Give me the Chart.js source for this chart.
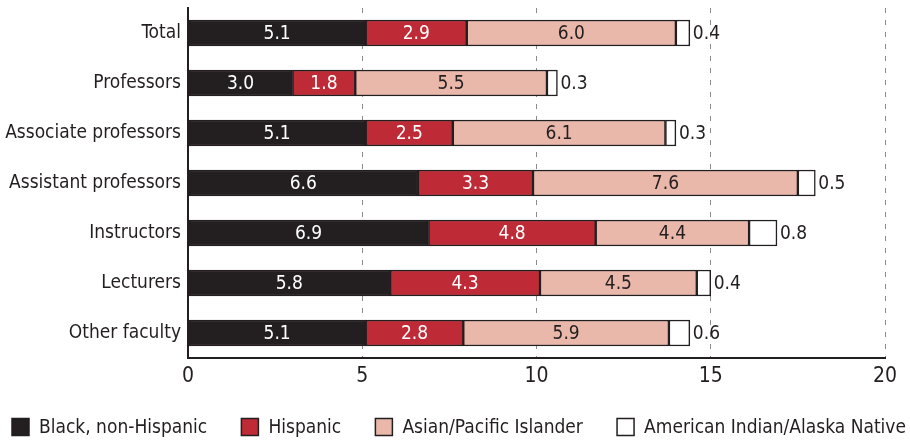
<!DOCTYPE html>
<html>
<head>
<meta charset="utf-8">
<script src="https://cdn.jsdelivr.net/npm/chart.js@4"></script>
<style>
  body { margin: 0; background: #fff; }
  #wrap { width: 910px; height: 440px; }
</style>
</head>
<body>
<div id="wrap"><canvas id="chart" width="910" height="440"></canvas></div>
<script>
/* ===============================
   DATA
================================ */
const categories = ["Total", "Professors", "Associate professors", "Assistant professors",
  "Instructors", "Lecturers", "Other faculty"];
const seriesNames = ["Black, non-Hispanic", "Hispanic", "Asian/Pacific Islander",
  "American Indian/Alaska Native"];
const black = [5.1, 3.0, 5.1, 6.6, 6.9, 5.8, 5.1];
const hispanic = [2.9, 1.8, 2.5, 3.3, 4.8, 4.3, 2.8];
const asian = [6.0, 5.5, 6.1, 7.6, 4.4, 4.5, 5.9];
const amIndian = [0.4, 0.3, 0.3, 0.5, 0.8, 0.4, 0.6];
const xTicks = [0, 5, 10, 15, 20];

/* ===============================
   STYLE
================================ */
const FONT = "'DejaVu Sans Condensed', 'DejaVu Sans', sans-serif";
const INK = "#231f20";
const fills = ["#231f20", "#be2b37", "#e9b8aa", "#ffffff"];
const labelColors = ["#ffffff", "#ffffff", INK, INK];

/* -------------------------------
   Value labels on / beside bars
-------------------------------- */
const valueLabels = {
  id: "valueLabels",
  afterDatasetsDraw(chart) {
    const ctx = chart.ctx;
    ctx.save();
    ctx.font = "19px " + FONT;
    ctx.textBaseline = "middle";
    chart.data.datasets.forEach((ds, i) => {
      const meta = chart.getDatasetMeta(i);
      meta.data.forEach((bar, j) => {
        const text = ds.data[j].toFixed(1);
        ctx.fillStyle = labelColors[i];
        if (i < 3) {
          ctx.textAlign = "center";
          ctx.fillText(text, (bar.x + bar.base) / 2, bar.y + 1);
        } else {
          ctx.textAlign = "left";
          ctx.fillText(text, bar.x + 3, bar.y + 1);
        }
      });
    });
    ctx.restore();
  }
};

/* -------------------------------
   Bottom legend, spread full width
-------------------------------- */
const spreadLegend = {
  id: "spreadLegend",
  afterDraw(chart) {
    const ctx = chart.ctx;
    const box = 17, gapText = 10, left = 12, right = 906, y = 427;
    ctx.save();
    ctx.font = "19px " + FONT;
    ctx.textBaseline = "middle";
    ctx.textAlign = "left";
    const items = chart.data.datasets.map((ds, i) => ({
      text: ds.label,
      fill: fills[i],
      w: box + gapText + ctx.measureText(ds.label).width
    }));
    const total = items.reduce((s, it) => s + it.w, 0);
    const gap = (right - left - total) / (items.length - 1);
    let x = left;
    items.forEach(it => {
      ctx.fillStyle = it.fill;
      ctx.fillRect(x, y - box / 2, box, box);
      ctx.strokeStyle = INK;
      ctx.lineWidth = 1.5;
      ctx.strokeRect(x, y - box / 2, box, box);
      ctx.fillStyle = INK;
      ctx.fillText(it.text, x + box + gapText, y + 1);
      x += it.w + gap;
    });
    ctx.restore();
  }
};

new Chart(document.getElementById("chart"), {
  type: "bar",
  data: {
    labels: categories,
    datasets: [black, hispanic, asian, amIndian].map((d, i) => ({
      label: seriesNames[i],
      data: d,
      backgroundColor: fills[i],
      borderColor: INK,
      borderWidth: 1.5,
      borderSkipped: false,
      barThickness: 26
    }))
  },
  options: {
    indexAxis: "y",
    responsive: false,
    animation: false,
    layout: { padding: { top: 8, right: 25, left: 0, bottom: 44 } },
    scales: {
      x: {
        stacked: true,
        min: 0,
        max: 20,
        afterBuildTicks: axis => { axis.ticks = xTicks.map(v => ({ value: v })); },
        afterFit: axis => { axis.height = 38; },
        ticks: {
          color: INK,
          font: { family: FONT, size: 21 },
          padding: 6
        },
        grid: {
          color: c => (c.tick && c.tick.value === 0 ? "rgba(0,0,0,0)" : "#8c8c8c"),
          lineWidth: 1,
          drawTicks: false
        },
        border: { display: true, color: INK, width: 2, dash: [5, 7] }
      },
      y: {
        stacked: true,
        afterFit: axis => {
          axis.width = 188;
          axis.paddingTop = 0;
          axis.paddingBottom = 0;
        },
        ticks: {
          color: INK,
          font: { family: FONT, size: 19 },
          padding: 7
        },
        grid: { display: false, drawTicks: false },
        border: { display: true, color: INK, width: 2 }
      }
    },
    plugins: {
      tooltip: { enabled: false },
      legend: { display: false }
    }
  },
  plugins: [valueLabels, spreadLegend]
});
</script>
</body>
</html>
